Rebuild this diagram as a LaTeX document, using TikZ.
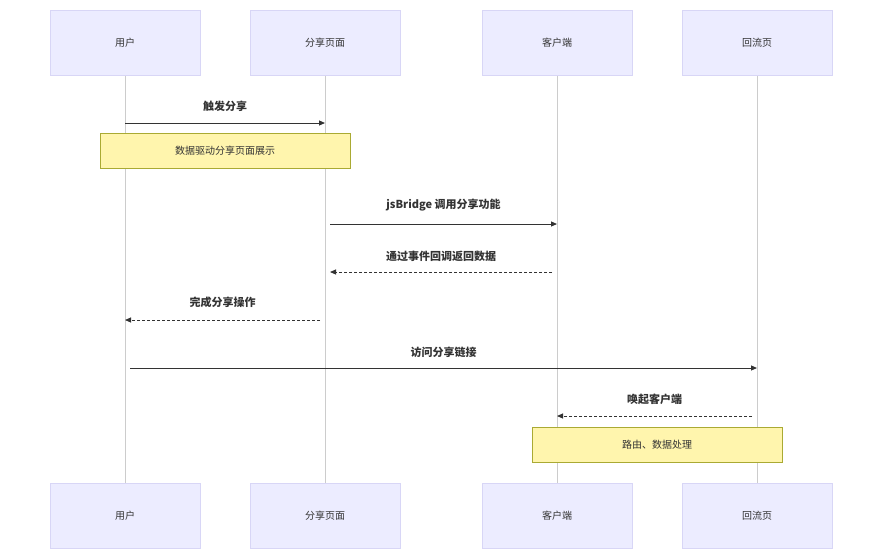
\documentclass[tikz,border=0pt]{standalone}
\usepackage{fontspec}
\setmainfont{Noto Sans CJK SC}
\usetikzlibrary{arrows.meta}
\definecolor{actfill}{HTML}{ECECFF}
\definecolor{actdraw}{HTML}{D8D6F6}
\definecolor{notefill}{HTML}{FFF5AD}
\definecolor{notedraw}{HTML}{AAAA33}
\definecolor{txt}{HTML}{333333}
\begin{document}
\begin{tikzpicture}[x=1pt,y=-1pt,
  actor/.style={draw=actdraw,fill=actfill,line width=1pt,minimum width=150pt,minimum height=65pt,inner sep=0,font=\fontsize{10}{12}\selectfont,text=txt},
  note/.style={draw=notedraw,fill=notefill,line width=0.6pt,minimum width=250pt,minimum height=35pt,inner sep=0,font=\fontsize{10}{12}\selectfont,text=txt},
  life/.style={draw=black!20,line width=1pt},
  msg/.style={draw=txt,line width=1pt,-{Triangle[length=6pt,width=5pt]}},
  dmsg/.style={msg,dash pattern=on 3pt off 2pt},
  lbl/.style={font=\bfseries\fontsize{11}{13}\selectfont,text=txt}]
\useasboundingbox (0,0) rectangle (882,549);
\foreach \n/\x/\t in {a/125/用户,b/325/分享页面,c/557/客户端,d/757/回流页}{
  \coordinate (\n t) at (\x,75);
  \coordinate (\n b) at (\x,483);
  \draw[life] (\n t) -- (\n b);
  \node[actor] (\n1) at (\x,42.5) {\t};
  \node[actor] (\n2) at (\x,515.5) {\t};
}
\coordinate (m1s) at (125,123); \coordinate (m1e) at (325,123);
\draw[msg] (m1s) -- (m1e) node[lbl,midway,above=8pt] {触发分享};
\node[note] (n1) at (225,150.5) {数据驱动分享页面展示};
\coordinate (m2s) at (330,224); \coordinate (m2e) at (557,224);
\draw[msg] (m2s) -- (m2e) node[lbl,midway,above=9pt] {jsBridge 调用分享功能};
\coordinate (m3s) at (552,272); \coordinate (m3e) at (330,272);
\draw[dmsg] (m3s) -- (m3e) node[lbl,midway,above=7pt] {通过事件回调返回数据};
\coordinate (m4s) at (320,320); \coordinate (m4e) at (125,320);
\draw[dmsg] (m4s) -- (m4e) node[lbl,midway,above=8pt] {完成分享操作};
\coordinate (m5s) at (130,368); \coordinate (m5e) at (757,368);
\draw[msg] (m5s) -- (m5e) node[lbl,midway,above=7pt] {访问分享链接};
\coordinate (m6s) at (752,416); \coordinate (m6e) at (557,416);
\draw[dmsg] (m6s) -- (m6e) node[lbl,midway,above=7pt] {唤起客户端};
\node[note] (n2) at (657,444.5) {路由、数据处理};
\end{tikzpicture}
\end{document}
